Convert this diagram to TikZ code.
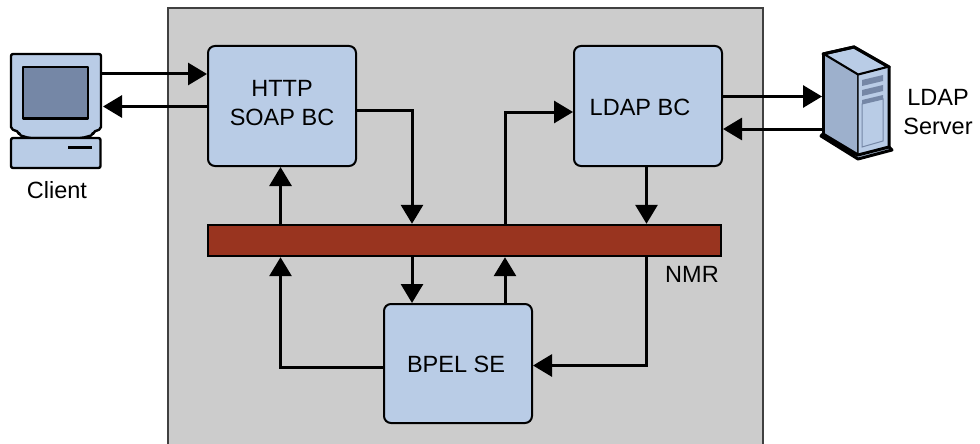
\documentclass[tikz,border=0pt]{standalone}
\usepackage{fontspec}
\setmainfont{Liberation Sans}
\usetikzlibrary{arrows.meta}
\definecolor{panelgray}{HTML}{CCCCCC}
\definecolor{boxblue}{HTML}{B9CCE6}
\definecolor{darkblue}{HTML}{7587A6}
\definecolor{sideblue}{HTML}{9DB0CC}
\definecolor{busred}{HTML}{99341F}
\tikzset{
  compbox/.style={draw=black, line width=2pt, fill=boxblue, rounded corners=7pt, minimum width=148pt, inner sep=0pt},
  flow/.style={black, line width=3pt, -{Triangle[length=19pt,width=22pt]}},
  txt/.style={font=\fontsize{23.5}{29}\selectfont, align=center, inner sep=0pt},
  part/.style={draw=black, line width=2.4pt, line join=round}
}
\begin{document}
\begin{tikzpicture}[x=1pt,y=-1pt]
\useasboundingbox (0,0) rectangle (980,444);

\draw[fill=panelgray, draw=black!75, line width=1.5pt] (168,8) rectangle (763,450);

\node[compbox, minimum height=120pt] (httpbc) at (282,106) {};
\node[compbox, minimum height=120pt] (ldapbc) at (648,106) {};
\node[compbox, minimum height=119pt] (bpelse) at (458,363.5) {};
\node[draw=black, line width=2.4pt, fill=busred, minimum width=513pt, minimum height=31pt, inner sep=0pt] (nmrbus) at (464.5,240.5) {};

\node[txt] (httptext) at (282,103.5) {HTTP\\SOAP BC};
\node[txt] (ldaptext) at (640,107) {LDAP BC};
\node[txt] (bpeltext) at (456,364) {BPEL SE};
\node[txt] (nmrtext) at (692,274) {NMR};
\node[txt] (clienttext) at (57,190) {Client};
\node[txt] (servertext) at (938,112) {LDAP\\Server};

% client
\draw[part, fill=boxblue, rounded corners=2pt] (11,54) -- (101,54) -- (101,129) -- (93,132) -- (93,135) -- (82,138) -- (29,138) -- (19,135) -- (19,132) -- (11,129) -- cycle;
\draw[part, fill=darkblue] (23,67) rectangle (88,118.5);
\draw[part, fill=boxblue, rounded corners=2pt] (11,138) rectangle (100.5,168);
\draw[black, line width=2.4pt] (68,147.5) -- (92,147.5);
\coordinate (clientout) at (102,74);
\coordinate (clientin) at (103,106.5);

% server
\draw[part, line width=3pt, fill=boxblue] (823,54) -- (854,47) -- (889,67) -- (858,75) -- cycle;
\draw[part, line width=1.2pt, fill=sideblue] (823,54) -- (858,75) -- (858,155) -- (823,135) -- cycle;
\draw[part, line width=1.2pt, fill=boxblue] (858,75) -- (889,67) -- (889,147) -- (858,155) -- cycle;
\draw[part, line width=3pt, fill=boxblue] (821,136) -- (823,134) -- (858,155) -- (889,147) -- (892,150) -- (858,159) -- cycle;
\draw[line width=3pt] (823,54) -- (854,47) -- (889,67) -- (889,147);
\draw[line width=3pt] (823,54) -- (823,134);
\fill[darkblue] (862,80) -- (883,75) -- (883,81) -- (862,86) -- cycle;
\fill[darkblue] (862,90) -- (883,85) -- (883,91) -- (862,96) -- cycle;
\fill[darkblue] (862,100) -- (883,95) -- (883,99) -- (862,104) -- cycle;
\draw[darkblue, line width=1pt] (862,104) -- (883,99) -- (883,141) -- (862,147) -- cycle;
\coordinate (serverin) at (822,96.5);
\coordinate (serverout) at (822,129);

% vertical runs
\coordinate (xhttp) at (280.5,0);
\coordinate (xdown) at (412,0);
\coordinate (xup) at (505,0);
\coordinate (xldap) at (646.5,0);

\draw[flow] (clientout) -- (clientout -| httpbc.west);
\draw[flow] (clientin -| httpbc.west) -- (clientin);
\draw[flow] (ldapbc.east |- serverin) -- (serverin);
\draw[flow] (serverout) -- (ldapbc.east |- serverout);

\draw[flow] (nmrbus.north -| xhttp) -- (httpbc.south -| xhttp);
\draw[flow] (httpbc.east |- 0,110) -| (nmrbus.north -| xdown);
\draw[flow] (nmrbus.north -| xup) |- (ldapbc.west |- 0,112);
\draw[flow] (ldapbc.south -| xldap) -- (nmrbus.north -| xldap);
\draw[flow] (nmrbus.south -| xdown) -- (bpelse.north -| xdown);
\draw[flow] (bpelse.north -| xup) -- (nmrbus.south -| xup);
\draw[flow] (bpelse.west |- 0,367) -| (nmrbus.south -| xhttp);
\draw[flow] (nmrbus.south -| xldap) |- (bpelse.east |- 0,365.5);
\end{tikzpicture}
\end{document}
